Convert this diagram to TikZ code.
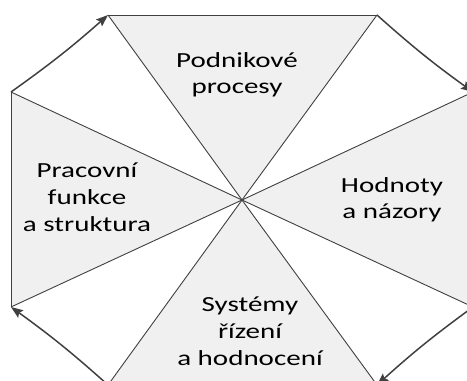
\documentclass[tikz,border=0pt]{standalone}
\usepackage{fontspec}
\setmainfont[FakeStretch=1.35]{Carlito}
\usetikzlibrary{arrows.meta}
\definecolor{seg}{HTML}{F0F0F0}
\definecolor{ln}{HTML}{404040}
\begin{document}
\begin{tikzpicture}[x=1pt,y=-1pt,
  spoke/.style={draw=ln,line width=0.9pt},
  grayseg/.style={fill=seg},
  arr/.style={draw=ln,line width=1.5pt,-{Stealth[length=12pt,width=9pt,inset=2pt]}},
  lbl/.style={anchor=base,inner sep=0pt,font=\fontsize{21.5}{27}\selectfont,text=black}]
\useasboundingbox (0,0) rectangle (467,381);
\clip (0,0) rectangle (467,381);
\coordinate (C) at (242,200);
\coordinate (TL) at (108,15);
\coordinate (TR) at (377,15);
\coordinate (RT) at (473,92);
\coordinate (RB) at (473,307);
\coordinate (BR) at (377,385);
\coordinate (BL) at (108,385);
\coordinate (LB) at (11,307);
\coordinate (LT) at (11,92);
% gray segments
\fill[grayseg] (C) -- (TL) -- (TR) -- cycle;
\fill[grayseg] (C) -- (RT) -- (RB) -- cycle;
\fill[grayseg] (C) -- (BR) -- (BL) -- cycle;
\fill[grayseg] (C) -- (LB) -- (LT) -- cycle;
% outer edges of gray segments
\draw[spoke] (TL) -- (TR);
\draw[spoke] (RT) -- (RB);
\draw[spoke] (BR) -- (BL);
\draw[spoke] (LB) -- (LT);
% spokes
\foreach \v in {TL,TR,RT,RB,BR,BL,LB,LT} \draw[spoke] (C) -- (\v);
% arrows
\draw[arr] (LT) to[bend right=3] (TL);
\draw[arr] (TR) to[bend right=3] (RT);
\draw[arr] (RB) to[bend right=3] (BR);
\draw[arr] (BL) to[bend right=3] (LB);
% labels
\node[lbl] (p1) at (237,67) {Podnikové};
\node[lbl] (p2) at (237,93) {procesy};
\node[lbl] (h1) at (392,192) {Hodnoty};
\node[lbl] (h2) at (392,218) {a názory};
\node[lbl] (s1) at (250,311) {Systémy};
\node[lbl] (s2) at (250,338) {řízení};
\node[lbl] (s3) at (250,365) {a hodnocení};
\node[lbl] (f1) at (87,177) {Pracovní};
\node[lbl] (f2) at (87,204) {funkce};
\node[lbl] (f3) at (87,231) {a struktura};
\end{tikzpicture}
\end{document}
